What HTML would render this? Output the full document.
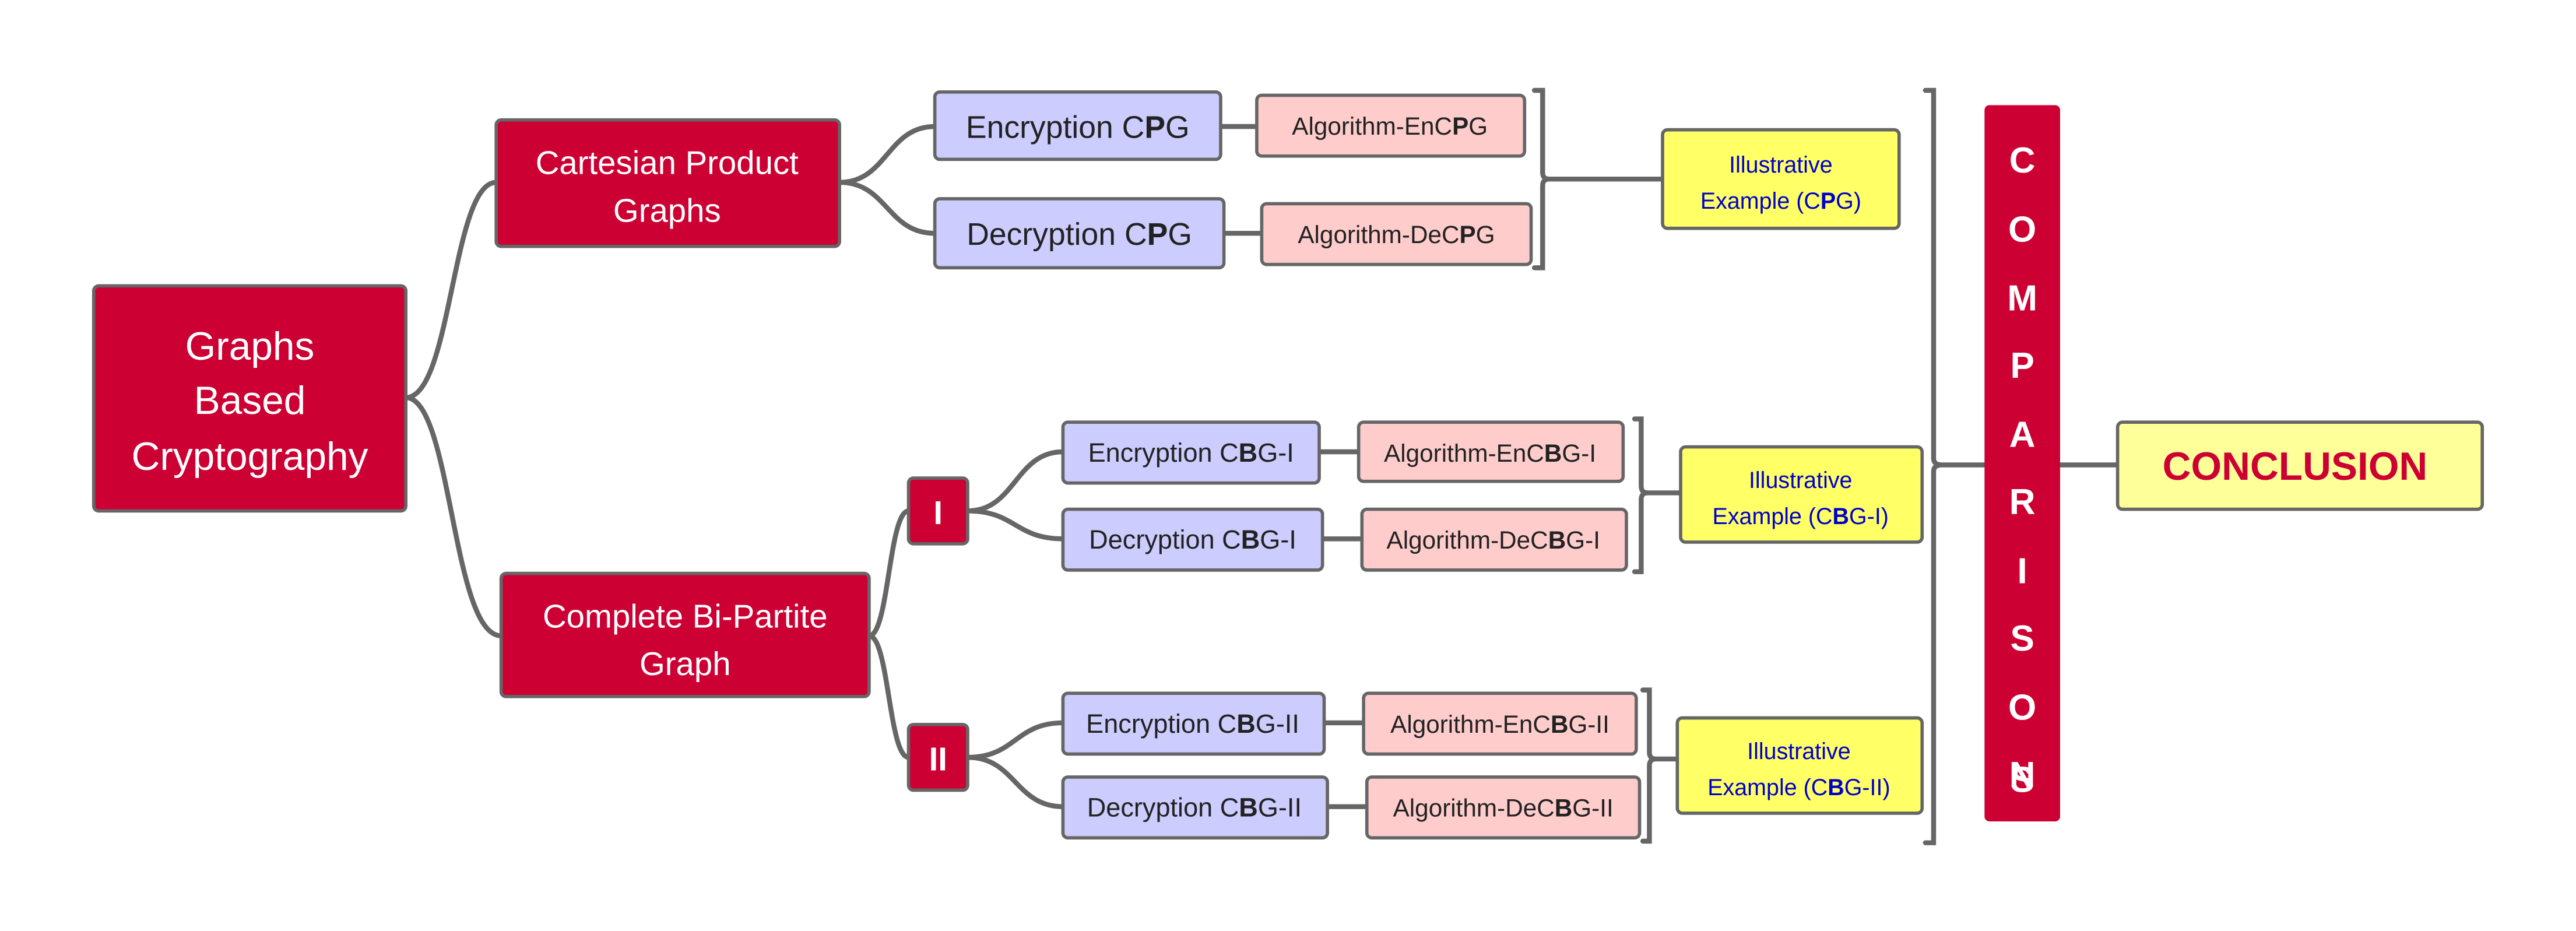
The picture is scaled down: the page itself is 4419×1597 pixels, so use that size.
<!DOCTYPE html>
<html><head><meta charset="utf-8"><style>
html,body{margin:0;padding:0;background:#fff;}
svg{display:block;}
text{font-family:"Liberation Sans",Arial,sans-serif;}
</style></head><body>
<svg xmlns="http://www.w3.org/2000/svg" width="4419" height="1597" viewBox="0 0 1568 566.7">
<g fill="none" stroke="#666" stroke-width="3" stroke-linecap="round">
<!-- root to children -->
<path d="M247,242 C275,242 275,111 302,111"/>
<path d="M247,242 C275,242 275,387 305,387"/>
<!-- Cartesian to enc/dec -->
<path d="M511,111 C540,111 540,77 569,77"/>
<path d="M511,111 C540,111 540,142 569,142"/>
<!-- Complete to I / II -->
<path d="M529,387 C541,387 541,311 553,311"/>
<path d="M529,387 C541,387 541,461 553,461"/>
<!-- I to enc/dec -->
<path d="M589,311 C618,311 618,275 647,275"/>
<path d="M589,311 C618,311 618,328 647,328"/>
<!-- II to enc/dec -->
<path d="M589,461 C618,461 618,440 647,440"/>
<path d="M589,461 C618,461 618,491 647,491"/>
<!-- to algorithms -->
<path d="M743,77 H765"/><path d="M745,142 H768"/>
<path d="M803,275 H827"/><path d="M805,328 H829"/>
<path d="M806,440 H830"/><path d="M808,491 H832"/>
<!-- brackets -->
<path d="M934,55 H939 V105 Q939,109 943,109 Q939,109 939,113 V163 H934"/>
<path d="M943,109 H1012"/>
<path d="M995,255 H999 V296 Q999,300 1003,300 Q999,300 999,304 V348 H995"/>
<path d="M1003,300 H1023"/>
<path d="M1000,420 H1004 V458 Q1004,462 1008,462 Q1004,462 1004,466 V512 H1000"/>
<path d="M1008,462 H1021"/>
<path d="M1172,55 H1177 V279 Q1177,283 1182,283 Q1177,283 1177,287 V513 H1172"/>
<path d="M1182,283 H1208"/>
<path d="M1254,283 H1289"/>
</g>
<g stroke="#666" stroke-width="2">
<rect x="57" y="174" width="190" height="137" rx="3" fill="#CC0033"/>
<rect x="302" y="73" width="209" height="77" rx="3" fill="#CC0033"/>
<rect x="305" y="349" width="224" height="75" rx="3" fill="#CC0033"/>
<rect x="553" y="291" width="36" height="40" rx="3" fill="#CC0033"/>
<rect x="553" y="441" width="36" height="40" rx="3" fill="#CC0033"/>
<rect x="569" y="56" width="174" height="41" rx="3" fill="#CCCCFF"/>
<rect x="569" y="121" width="176" height="42" rx="3" fill="#CCCCFF"/>
<rect x="765" y="58" width="163" height="37" rx="3" fill="#FFCCCC"/>
<rect x="768" y="124" width="164" height="37" rx="3" fill="#FFCCCC"/>
<rect x="1012" y="79" width="144" height="60" rx="3" fill="#FFFF66"/>
<rect x="647" y="257" width="156" height="37" rx="3" fill="#CCCCFF"/>
<rect x="647" y="310" width="158" height="37" rx="3" fill="#CCCCFF"/>
<rect x="827" y="257" width="161" height="36" rx="3" fill="#FFCCCC"/>
<rect x="829" y="310" width="161" height="37" rx="3" fill="#FFCCCC"/>
<rect x="1023" y="272" width="147" height="58" rx="3" fill="#FFFF66"/>
<rect x="647" y="422" width="159" height="37" rx="3" fill="#CCCCFF"/>
<rect x="647" y="473" width="161" height="37" rx="3" fill="#CCCCFF"/>
<rect x="830" y="422" width="166" height="37" rx="3" fill="#FFCCCC"/>
<rect x="832" y="473" width="166" height="37" rx="3" fill="#FFCCCC"/>
<rect x="1021" y="437" width="149" height="58" rx="3" fill="#FFFF66"/>
<rect x="1289" y="257" width="222" height="53" rx="3" fill="#FFFF99"/>
</g>
<rect x="1208" y="64" width="46" height="436" rx="3" fill="#CC0033"/>
<g fill="#fff" text-anchor="middle">
<text x="152" y="219" font-size="24">Graphs</text>
<text x="152" y="252" font-size="24">Based</text>
<text x="152" y="286" font-size="24">Cryptography</text>
<text x="406" y="106" font-size="20">Cartesian Product</text>
<text x="406" y="135" font-size="20">Graphs</text>
<text x="417" y="382" font-size="20">Complete Bi-Partite</text>
<text x="417" y="411" font-size="20">Graph</text>
<text x="571" y="319" font-size="20" font-weight="bold">I</text>
<text x="571" y="469" font-size="20" font-weight="bold">II</text>
</g>
<g fill="#fff" text-anchor="middle" font-size="22" font-weight="bold">
<text x="1231" y="105">C</text><text x="1231" y="147">O</text><text x="1231" y="189">M</text>
<text x="1231" y="230">P</text><text x="1231" y="272">A</text><text x="1231" y="313">R</text>
<text x="1231" y="355">I</text><text x="1231" y="396">S</text><text x="1231" y="438">O</text>
<text x="1231" y="479">N</text><text x="1231" y="487" opacity="0"> </text>
</g>
<text x="1231" y="482" fill="#fff" text-anchor="middle" font-size="22" font-weight="bold" dy="0" style="display:none">S</text>
<g fill="#222" text-anchor="middle">
<text x="656" y="84" font-size="19">Encryption C<tspan font-weight="bold">P</tspan>G</text>
<text x="657" y="149" font-size="19">Decryption C<tspan font-weight="bold">P</tspan>G</text>
<text x="846" y="82" font-size="15">Algorithm-EnC<tspan font-weight="bold">P</tspan>G</text>
<text x="850" y="148" font-size="15">Algorithm-DeC<tspan font-weight="bold">P</tspan>G</text>
<text x="725" y="281" font-size="16">Encryption C<tspan font-weight="bold">B</tspan>G-I</text>
<text x="726" y="334" font-size="16">Decryption C<tspan font-weight="bold">B</tspan>G-I</text>
<text x="907" y="281" font-size="15">Algorithm-EnC<tspan font-weight="bold">B</tspan>G-I</text>
<text x="909" y="334" font-size="15">Algorithm-DeC<tspan font-weight="bold">B</tspan>G-I</text>
<text x="726" y="446" font-size="16">Encryption C<tspan font-weight="bold">B</tspan>G-II</text>
<text x="727" y="497" font-size="16">Decryption C<tspan font-weight="bold">B</tspan>G-II</text>
<text x="913" y="446" font-size="15">Algorithm-EnC<tspan font-weight="bold">B</tspan>G-II</text>
<text x="915" y="497" font-size="15">Algorithm-DeC<tspan font-weight="bold">B</tspan>G-II</text>
</g>
<g fill="#0000CC" text-anchor="middle" font-size="14">
<text x="1084" y="105">Illustrative</text>
<text x="1084" y="127">Example (C<tspan font-weight="bold">P</tspan>G)</text>
<text x="1096" y="297">Illustrative</text>
<text x="1096" y="319">Example (C<tspan font-weight="bold">B</tspan>G-I)</text>
<text x="1095" y="462">Illustrative</text>
<text x="1095" y="484">Example (C<tspan font-weight="bold">B</tspan>G-II)</text>
</g>
<text x="1231" y="482" fill="#fff" text-anchor="middle" font-size="22" font-weight="bold">S</text>
<text x="1397" y="292" fill="#CC0033" text-anchor="middle" font-size="24" font-weight="bold">CONCLUSION</text>
</svg>
</body></html>
